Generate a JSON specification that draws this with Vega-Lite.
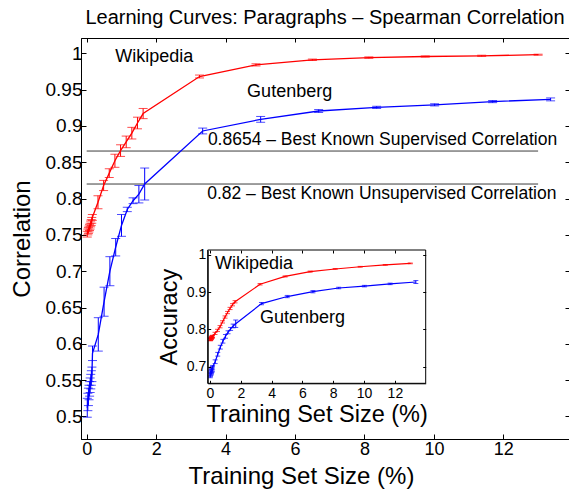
{
  "$schema": "https://vega.github.io/schema/vega-lite/v6.json",
  "width": 488,
  "height": 401,
  "autosize": {"type": "none"},
  "padding": {"left": 81, "top": 38, "right": 0, "bottom": 50},
  "background": "white",
  "title": {"text": "Learning Curves: Paragraphs \u2013 Spearman Correlation", "fontSize": 20, "fontWeight": "normal", "font": "Liberation Sans", "color": "black", "offset": 10},
  "config": {
    "view": {"stroke": "black", "strokeWidth": 1},
    "font": "Liberation Sans",
    "axis": {"grid": false, "domainColor": "black", "tickColor": "black", "labelColor": "black", "titleColor": "black", "labelFont": "Liberation Sans", "titleFont": "Liberation Sans", "titleFontWeight": "normal", "domainWidth": 1, "tickWidth": 1, "labelOverlap": false, "labelFlush": false}
  },
  "datasets": {
    "d": [
      {"p": "m", "s": "W", "x": 0.016, "y": 0.751, "e": 0.004},
      {"p": "m", "s": "W", "x": 0.033, "y": 0.754, "e": 0.004},
      {"p": "m", "s": "W", "x": 0.049, "y": 0.756, "e": 0.004},
      {"p": "m", "s": "W", "x": 0.065, "y": 0.758, "e": 0.004},
      {"p": "m", "s": "W", "x": 0.081, "y": 0.760, "e": 0.004},
      {"p": "m", "s": "W", "x": 0.098, "y": 0.762, "e": 0.004},
      {"p": "m", "s": "W", "x": 0.114, "y": 0.765, "e": 0.004},
      {"p": "m", "s": "W", "x": 0.130, "y": 0.767, "e": 0.004},
      {"p": "m", "s": "W", "x": 0.146, "y": 0.770, "e": 0.004},
      {"p": "m", "s": "W", "x": 0.1625, "y": 0.774, "e": 0.004},
      {"p": "m", "s": "W", "x": 0.325, "y": 0.795, "e": 0.009},
      {"p": "m", "s": "W", "x": 0.4875, "y": 0.818, "e": 0.007},
      {"p": "m", "s": "W", "x": 0.65, "y": 0.835, "e": 0.006},
      {"p": "m", "s": "W", "x": 0.8125, "y": 0.852, "e": 0.009},
      {"p": "m", "s": "W", "x": 0.975, "y": 0.866, "e": 0.008},
      {"p": "m", "s": "W", "x": 1.1375, "y": 0.878, "e": 0.008},
      {"p": "m", "s": "W", "x": 1.3, "y": 0.89, "e": 0.008},
      {"p": "m", "s": "W", "x": 1.4625, "y": 0.904, "e": 0.008},
      {"p": "m", "s": "W", "x": 1.625, "y": 0.917, "e": 0.007},
      {"p": "m", "s": "W", "x": 3.25, "y": 0.968, "e": 0.002},
      {"p": "m", "s": "W", "x": 4.875, "y": 0.984, "e": 0.0015},
      {"p": "m", "s": "W", "x": 6.5, "y": 0.991, "e": 0.001},
      {"p": "m", "s": "W", "x": 8.125, "y": 0.994, "e": 0.001},
      {"p": "m", "s": "W", "x": 9.75, "y": 0.9955, "e": 0.0008},
      {"p": "m", "s": "W", "x": 11.375, "y": 0.9965, "e": 0.0008},
      {"p": "m", "s": "W", "x": 13.0, "y": 0.998, "e": 0.0007},
      {"p": "m", "s": "G", "x": 0.0167, "y": 0.512, "e": 0.013},
      {"p": "m", "s": "G", "x": 0.0334, "y": 0.520, "e": 0.012},
      {"p": "m", "s": "G", "x": 0.0501, "y": 0.527, "e": 0.012},
      {"p": "m", "s": "G", "x": 0.0668, "y": 0.533, "e": 0.01},
      {"p": "m", "s": "G", "x": 0.0835, "y": 0.538, "e": 0.01},
      {"p": "m", "s": "G", "x": 0.1002, "y": 0.543, "e": 0.01},
      {"p": "m", "s": "G", "x": 0.1169, "y": 0.548, "e": 0.01},
      {"p": "m", "s": "G", "x": 0.1336, "y": 0.553, "e": 0.01},
      {"p": "m", "s": "G", "x": 0.1503, "y": 0.558, "e": 0.01},
      {"p": "m", "s": "G", "x": 0.167, "y": 0.587, "e": 0.01},
      {"p": "m", "s": "G", "x": 0.334, "y": 0.613, "e": 0.023},
      {"p": "m", "s": "G", "x": 0.501, "y": 0.658, "e": 0.02},
      {"p": "m", "s": "G", "x": 0.668, "y": 0.700, "e": 0.02},
      {"p": "m", "s": "G", "x": 0.835, "y": 0.733, "e": 0.012},
      {"p": "m", "s": "G", "x": 1.002, "y": 0.763, "e": 0.015},
      {"p": "m", "s": "G", "x": 1.169, "y": 0.785, "e": 0.003},
      {"p": "m", "s": "G", "x": 1.336, "y": 0.797, "e": 0.004},
      {"p": "m", "s": "G", "x": 1.503, "y": 0.806, "e": 0.012},
      {"p": "m", "s": "G", "x": 1.67, "y": 0.820, "e": 0.022},
      {"p": "m", "s": "G", "x": 3.34, "y": 0.893, "e": 0.004},
      {"p": "m", "s": "G", "x": 5.01, "y": 0.909, "e": 0.004},
      {"p": "m", "s": "G", "x": 6.68, "y": 0.9205, "e": 0.002},
      {"p": "m", "s": "G", "x": 8.35, "y": 0.9255, "e": 0.0015},
      {"p": "m", "s": "G", "x": 10.02, "y": 0.929, "e": 0.0015},
      {"p": "m", "s": "G", "x": 11.69, "y": 0.9335, "e": 0.0015},
      {"p": "m", "s": "G", "x": 13.36, "y": 0.9365, "e": 0.002},
      {"p": "i", "s": "W", "x": 0.016, "y": 0.772, "e": 0.003},
      {"p": "i", "s": "W", "x": 0.033, "y": 0.773, "e": 0.003},
      {"p": "i", "s": "W", "x": 0.049, "y": 0.774, "e": 0.003},
      {"p": "i", "s": "W", "x": 0.065, "y": 0.775, "e": 0.003},
      {"p": "i", "s": "W", "x": 0.081, "y": 0.776, "e": 0.003},
      {"p": "i", "s": "W", "x": 0.098, "y": 0.777, "e": 0.003},
      {"p": "i", "s": "W", "x": 0.114, "y": 0.778, "e": 0.003},
      {"p": "i", "s": "W", "x": 0.130, "y": 0.779, "e": 0.003},
      {"p": "i", "s": "W", "x": 0.146, "y": 0.780, "e": 0.003},
      {"p": "i", "s": "W", "x": 0.1625, "y": 0.781, "e": 0.003},
      {"p": "i", "s": "W", "x": 0.325, "y": 0.789, "e": 0.003},
      {"p": "i", "s": "W", "x": 0.4875, "y": 0.797, "e": 0.003},
      {"p": "i", "s": "W", "x": 0.65, "y": 0.807, "e": 0.003},
      {"p": "i", "s": "W", "x": 0.8125, "y": 0.820, "e": 0.003},
      {"p": "i", "s": "W", "x": 0.975, "y": 0.833, "e": 0.003},
      {"p": "i", "s": "W", "x": 1.1375, "y": 0.845, "e": 0.003},
      {"p": "i", "s": "W", "x": 1.3, "y": 0.856, "e": 0.003},
      {"p": "i", "s": "W", "x": 1.4625, "y": 0.866, "e": 0.003},
      {"p": "i", "s": "W", "x": 1.625, "y": 0.874, "e": 0.003},
      {"p": "i", "s": "W", "x": 3.25, "y": 0.921, "e": 0.002},
      {"p": "i", "s": "W", "x": 4.875, "y": 0.942, "e": 0.0015},
      {"p": "i", "s": "W", "x": 6.5, "y": 0.955, "e": 0.0015},
      {"p": "i", "s": "W", "x": 8.125, "y": 0.962, "e": 0.001},
      {"p": "i", "s": "W", "x": 9.75, "y": 0.968, "e": 0.001},
      {"p": "i", "s": "W", "x": 11.375, "y": 0.973, "e": 0.001},
      {"p": "i", "s": "W", "x": 13.0, "y": 0.977, "e": 0.001},
      {"p": "i", "s": "G", "x": 0.0167, "y": 0.676, "e": 0.006},
      {"p": "i", "s": "G", "x": 0.0334, "y": 0.679, "e": 0.006},
      {"p": "i", "s": "G", "x": 0.0501, "y": 0.682, "e": 0.006},
      {"p": "i", "s": "G", "x": 0.0668, "y": 0.684, "e": 0.006},
      {"p": "i", "s": "G", "x": 0.0835, "y": 0.686, "e": 0.006},
      {"p": "i", "s": "G", "x": 0.1002, "y": 0.688, "e": 0.006},
      {"p": "i", "s": "G", "x": 0.1169, "y": 0.690, "e": 0.006},
      {"p": "i", "s": "G", "x": 0.1336, "y": 0.692, "e": 0.006},
      {"p": "i", "s": "G", "x": 0.1503, "y": 0.694, "e": 0.006},
      {"p": "i", "s": "G", "x": 0.167, "y": 0.698, "e": 0.005},
      {"p": "i", "s": "G", "x": 0.334, "y": 0.713, "e": 0.005},
      {"p": "i", "s": "G", "x": 0.501, "y": 0.733, "e": 0.005},
      {"p": "i", "s": "G", "x": 0.668, "y": 0.752, "e": 0.005},
      {"p": "i", "s": "G", "x": 0.835, "y": 0.768, "e": 0.005},
      {"p": "i", "s": "G", "x": 1.002, "y": 0.781, "e": 0.005},
      {"p": "i", "s": "G", "x": 1.169, "y": 0.792, "e": 0.004},
      {"p": "i", "s": "G", "x": 1.336, "y": 0.801, "e": 0.004},
      {"p": "i", "s": "G", "x": 1.503, "y": 0.809, "e": 0.005},
      {"p": "i", "s": "G", "x": 1.67, "y": 0.815, "e": 0.01},
      {"p": "i", "s": "G", "x": 3.34, "y": 0.869, "e": 0.003},
      {"p": "i", "s": "G", "x": 5.01, "y": 0.888, "e": 0.003},
      {"p": "i", "s": "G", "x": 6.68, "y": 0.901, "e": 0.003},
      {"p": "i", "s": "G", "x": 8.35, "y": 0.911, "e": 0.002},
      {"p": "i", "s": "G", "x": 10.02, "y": 0.916, "e": 0.002},
      {"p": "i", "s": "G", "x": 11.69, "y": 0.922, "e": 0.002},
      {"p": "i", "s": "G", "x": 13.36, "y": 0.927, "e": 0.004}
    ],
    "refs": [
      {"v": 0.8654},
      {"v": 0.82}
    ],
    "one": [{}]
  },
  "data": {"name": "d"},
  "layer": [
    {
      "transform": [{"filter": "datum.p == 'm'"}],
      "layer": [
        {
          "data": {"name": "refs"},
          "mark": {"type": "rule", "color": "#3c3c3c", "strokeWidth": 1},
          "encoding": {
            "x": {"datum": 0, "type": "quantitative", "scale": {"domain": [-0.164, 13.89], "nice": false, "zero": false}, "axis": null},
            "x2": {"datum": 13},
            "y": {"field": "v", "type": "quantitative", "scale": {"domain": [0.469, 1.021], "nice": false, "zero": false}, "axis": null}
          }
        },
        {
          "mark": {"type": "errorbar", "ticks": {"size": 9}, "thickness": 1},
          "encoding": {
            "x": {"field": "x", "type": "quantitative", "scale": {"domain": [-0.164, 13.89], "nice": false, "zero": false}, "axis": null},
            "y": {"field": "y", "type": "quantitative", "scale": {"domain": [0.469, 1.021], "nice": false, "zero": false}, "axis": null},
            "yError": {"field": "e"},
            "color": {"field": "s", "type": "nominal", "scale": {"domain": ["W", "G"], "range": ["#ff0000", "#0000ff"]}, "legend": null}
          }
        },
        {
          "mark": {"type": "line", "strokeWidth": 1.3},
          "encoding": {
            "x": {"field": "x", "type": "quantitative", "scale": {"domain": [-0.164, 13.89], "nice": false, "zero": false},
                  "axis": {"orient": "bottom", "values": [0, 2, 4, 6, 8, 10, 12], "tickSize": -5, "labelPadding": 6, "labelFontSize": 18, "title": "Training Set Size (%)", "titleFontSize": 24, "titlePadding": 6, "titleX": 220}},
            "y": {"field": "y", "type": "quantitative", "scale": {"domain": [0.469, 1.021], "nice": false, "zero": false},
                  "axis": {"orient": "left", "values": [0.5, 0.55, 0.6, 0.65, 0.7, 0.75, 0.8, 0.85, 0.9, 0.95, 1], "format": "~g", "tickSize": -5, "labelPadding": 4, "labelFontSize": 19, "title": "Correlation", "titleFontSize": 24, "titlePadding": 11}},
            "color": {"field": "s", "type": "nominal", "scale": {"domain": ["W", "G"], "range": ["#ff0000", "#0000ff"]}, "legend": null}
          }
        },
        {
          "mark": {"type": "line", "strokeOpacity": 0},
          "encoding": {
            "x": {"field": "x", "type": "quantitative", "scale": {"domain": [-0.164, 13.89], "nice": false, "zero": false},
                  "axis": {"orient": "top", "values": [0, 2, 4, 6, 8, 10, 12], "tickSize": -4, "labels": false, "domain": false, "title": null}},
            "y": {"field": "y", "type": "quantitative", "scale": {"domain": [0.469, 1.021], "nice": false, "zero": false},
                  "axis": {"orient": "right", "values": [0.5, 0.55, 0.6, 0.65, 0.7, 0.75, 0.8, 0.85, 0.9, 0.95, 1], "tickSize": -4, "labels": false, "domain": false, "title": null}},
            "detail": {"field": "s"}
          }
        },
        {
          "data": {"name": "one"},
          "mark": {"type": "text", "align": "left", "baseline": "alphabetic", "fontSize": 17.5, "font": "Liberation Sans", "color": "black"},
          "encoding": {
            "x": {"datum": 3.49, "type": "quantitative", "scale": {"domain": [-0.164, 13.89], "nice": false, "zero": false}, "axis": null},
            "y": {"datum": 0.8738, "type": "quantitative", "scale": {"domain": [0.469, 1.021], "nice": false, "zero": false}, "axis": null},
            "text": {"value": "0.8654 \u2013 Best Known Supervised Correlation"}
          }
        },
        {
          "data": {"name": "one"},
          "mark": {"type": "text", "align": "left", "baseline": "alphabetic", "fontSize": 17.5, "font": "Liberation Sans", "color": "black"},
          "encoding": {
            "x": {"datum": 3.47, "type": "quantitative", "scale": {"domain": [-0.164, 13.89], "nice": false, "zero": false}, "axis": null},
            "y": {"datum": 0.7991, "type": "quantitative", "scale": {"domain": [0.469, 1.021], "nice": false, "zero": false}, "axis": null},
            "text": {"value": "0.82 \u2013 Best Known Unsupervised Correlation"}
          }
        },
        {
          "data": {"name": "one"},
          "mark": {"type": "text", "align": "left", "baseline": "alphabetic", "fontSize": 18, "font": "Liberation Sans", "color": "black"},
          "encoding": {
            "x": {"datum": 0.82, "type": "quantitative", "scale": {"domain": [-0.164, 13.89], "nice": false, "zero": false}, "axis": null},
            "y": {"datum": 0.9876, "type": "quantitative", "scale": {"domain": [0.469, 1.021], "nice": false, "zero": false}, "axis": null},
            "text": {"value": "Wikipedia"}
          }
        },
        {
          "data": {"name": "one"},
          "mark": {"type": "text", "align": "left", "baseline": "alphabetic", "fontSize": 18, "font": "Liberation Sans", "color": "black"},
          "encoding": {
            "x": {"datum": 4.62, "type": "quantitative", "scale": {"domain": [-0.164, 13.89], "nice": false, "zero": false}, "axis": null},
            "y": {"datum": 0.9403, "type": "quantitative", "scale": {"domain": [0.469, 1.021], "nice": false, "zero": false}, "axis": null},
            "text": {"value": "Gutenberg"}
          }
        }
      ],
      "resolve": {"axis": {"x": "independent", "y": "independent"}}
    },
    {
      "transform": [{"filter": "datum.p == 'i'"}],
      "layer": [
        {
          "data": {"name": "one"},
          "mark": {"type": "rect", "fill": "white", "stroke": "black", "strokeWidth": 1},
          "encoding": {
            "x": {"datum": -0.15, "type": "quantitative", "scale": {"domain": [-0.15, 14.0], "range": [126.7, 344.7], "nice": false, "zero": false}, "axis": null},
            "x2": {"datum": 14.0},
            "y": {"datum": 0.655, "type": "quantitative", "scale": {"domain": [0.655, 1.013], "range": [345.3, 212], "nice": false, "zero": false}, "axis": null},
            "y2": {"datum": 1.013}
          }
        },
        {
          "mark": {"type": "errorbar", "ticks": {"size": 5}, "thickness": 1},
          "encoding": {
            "x": {"field": "x", "type": "quantitative", "scale": {"domain": [-0.15, 14.0], "range": [126.7, 344.7], "nice": false, "zero": false}, "axis": null},
            "y": {"field": "y", "type": "quantitative", "scale": {"domain": [0.655, 1.013], "range": [345.3, 212], "nice": false, "zero": false}, "axis": null},
            "yError": {"field": "e"},
            "color": {"field": "s", "type": "nominal", "scale": {"domain": ["W", "G"], "range": ["#ff0000", "#0000ff"]}, "legend": null}
          }
        },
        {
          "mark": {"type": "line", "strokeWidth": 1.2},
          "encoding": {
            "x": {"field": "x", "type": "quantitative", "scale": {"domain": [-0.15, 14.0], "range": [126.7, 344.7], "nice": false, "zero": false},
                  "axis": {"orient": "bottom", "offset": -55.7, "zindex": 1, "values": [0, 2, 4, 6, 8, 10, 12], "tickSize": -3, "labelPadding": 6, "labelFontSize": 14, "title": "Training Set Size (%)", "titleFontSize": 23.5, "titlePadding": 2}},
            "y": {"field": "y", "type": "quantitative", "scale": {"domain": [0.655, 1.013], "range": [345.3, 212], "nice": false, "zero": false},
                  "axis": {"orient": "left", "offset": -126.7, "zindex": 1, "values": [0.7, 0.8, 0.9, 1], "format": "~g", "tickSize": -3, "labelPadding": 5, "labelFontSize": 14, "title": "Accuracy", "titleFontSize": 23.5, "titlePadding": 5}},
            "color": {"field": "s", "type": "nominal", "scale": {"domain": ["W", "G"], "range": ["#ff0000", "#0000ff"]}, "legend": null}
          }
        },
        {
          "mark": {"type": "line", "strokeOpacity": 0},
          "encoding": {
            "x": {"field": "x", "type": "quantitative", "scale": {"domain": [-0.15, 14.0], "range": [126.7, 344.7], "nice": false, "zero": false},
                  "axis": {"orient": "top", "offset": -212, "zindex": 1, "values": [0, 2, 4, 6, 8, 10, 12], "tickSize": -3, "labels": false, "domain": false, "title": null}},
            "y": {"field": "y", "type": "quantitative", "scale": {"domain": [0.655, 1.013], "range": [345.3, 212], "nice": false, "zero": false},
                  "axis": {"orient": "right", "offset": -143.3, "zindex": 1, "values": [0.7, 0.8, 0.9, 1], "tickSize": -3, "labels": false, "domain": false, "title": null}},
            "detail": {"field": "s"}
          }
        },
        {
          "data": {"name": "one"},
          "mark": {"type": "text", "align": "left", "baseline": "alphabetic", "fontSize": 18, "font": "Liberation Sans", "color": "black"},
          "encoding": {
            "x": {"datum": 0.32, "type": "quantitative", "scale": {"domain": [-0.15, 14.0], "range": [126.7, 344.7], "nice": false, "zero": false}, "axis": null},
            "y": {"datum": 0.962, "type": "quantitative", "scale": {"domain": [0.655, 1.013], "range": [345.3, 212], "nice": false, "zero": false}, "axis": null},
            "text": {"value": "Wikipedia"}
          }
        },
        {
          "data": {"name": "one"},
          "mark": {"type": "text", "align": "left", "baseline": "alphabetic", "fontSize": 18, "font": "Liberation Sans", "color": "black"},
          "encoding": {
            "x": {"datum": 3.24, "type": "quantitative", "scale": {"domain": [-0.15, 14.0], "range": [126.7, 344.7], "nice": false, "zero": false}, "axis": null},
            "y": {"datum": 0.8167, "type": "quantitative", "scale": {"domain": [0.655, 1.013], "range": [345.3, 212], "nice": false, "zero": false}, "axis": null},
            "text": {"value": "Gutenberg"}
          }
        }
      ],
      "resolve": {"axis": {"x": "independent", "y": "independent"}}
    }
  ],
  "resolve": {"scale": {"x": "independent", "y": "independent"}, "axis": {"x": "independent", "y": "independent"}}
}
